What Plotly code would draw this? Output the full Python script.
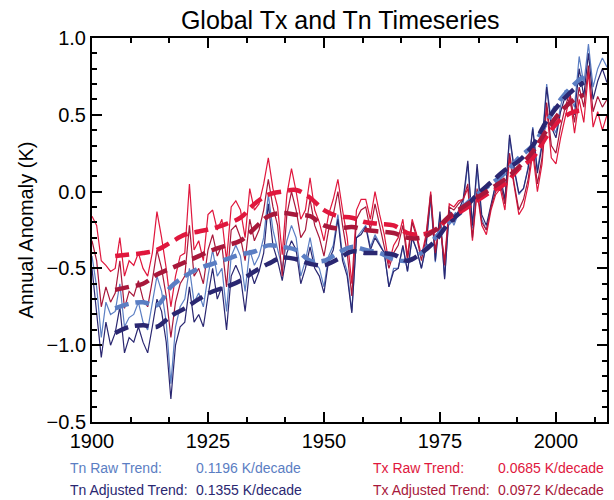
import plotly.graph_objects as go

years = list(range(1900, 2012))

tn_adj = [-0.50, -0.80, -1.08, -0.85, -1.00, -0.92, -0.75, -1.05, -0.95, -0.98,
          -0.88, -0.98, -1.05, -0.88, -0.70, -0.78, -0.98, -1.35, -1.00, -0.88,
          -0.85, -0.62, -0.85, -0.80, -0.88, -0.68, -0.50, -0.70, -0.62, -0.90,
          -0.55, -0.48, -0.55, -0.78, -0.50, -0.60, -0.52, -0.40, -0.08, -0.35,
          -0.45, -0.58, -0.40, -0.32, -0.38, -0.60, -0.50, -0.36, -0.50, -0.55,
          -0.66, -0.45, -0.38, -0.18, -0.45, -0.55, -0.79, -0.30, -0.28, -0.23,
          -0.38, -0.30, -0.35, -0.40, -0.62, -0.52, -0.50, -0.35, -0.52, -0.30,
          -0.38, -0.50, -0.35, -0.02, -0.45, -0.13, -0.57, -0.12, -0.20, -0.12,
          -0.05, 0.20, -0.22, 0.18, -0.15, -0.22, -0.08, 0.05, 0.10, -0.05,
          0.37, 0.15, -0.01, 0.02, 0.15, 0.41, 0.12, 0.30, 0.68, 0.42,
          0.35, 0.52, 0.62, 0.58, 0.50, 0.80, 0.62, 0.90, 0.60, 0.72,
          0.80, 0.71]

tn_raw = [-0.42, -0.62, -0.95, -0.72, -0.80, -0.78, -0.60, -0.88, -0.82, -0.80,
          -0.72, -0.85, -0.90, -0.72, -0.55, -0.65, -0.85, -1.25, -0.88, -0.75,
          -0.70, -0.50, -0.72, -0.66, -0.75, -0.55, -0.38, -0.55, -0.50, -0.78,
          -0.42, -0.35, -0.42, -0.65, -0.38, -0.48, -0.42, -0.30, -0.02, -0.25,
          -0.38, -0.50, -0.32, -0.22, -0.30, -0.55, -0.45, -0.30, -0.46, -0.50,
          -0.62, -0.42, -0.35, -0.15, -0.42, -0.52, -0.78, -0.30, -0.26, -0.22,
          -0.36, -0.28, -0.34, -0.40, -0.62, -0.50, -0.50, -0.36, -0.52, -0.30,
          -0.38, -0.50, -0.36, -0.05, -0.46, -0.15, -0.56, -0.14, -0.22, -0.14,
          -0.08, 0.18, -0.24, 0.15, -0.18, -0.25, -0.10, 0.04, 0.08, -0.08,
          0.35, 0.14, -0.02, 0.02, 0.16, 0.42, 0.14, 0.32, 0.70, 0.45,
          0.38, 0.56, 0.66, 0.62, 0.55, 0.88, 0.70, 0.96, 0.68, 0.80,
          0.87, 0.81]

tx_adj = [-0.32, -0.45, -0.75, -0.62, -0.72, -0.66, -0.45, -0.76, -0.65, -0.68,
          -0.58, -0.70, -0.75, -0.58, -0.38, -0.50, -0.68, -0.95, -0.72, -0.60,
          -0.55, -0.22, -0.55, -0.50, -0.60, -0.38, -0.28, -0.42, -0.35, -0.62,
          -0.25, -0.22, -0.30, -0.45, -0.18, -0.32, -0.25, -0.12, 0.08, -0.10,
          -0.22, -0.55, -0.15, 0.00, -0.12, -0.30, -0.25, -0.05, -0.22, -0.30,
          -0.42, -0.25, -0.15, 0.00, -0.22, -0.40, -0.68, -0.18, -0.12, -0.10,
          -0.25, -0.08, -0.22, -0.35, -0.50, -0.40, -0.35, -0.22, -0.45, -0.20,
          -0.30, -0.45, -0.30, -0.02, -0.40, -0.20, -0.48, -0.10, -0.12, -0.08,
          -0.05, 0.05, -0.30, 0.02, -0.20, -0.25, -0.10, 0.00, 0.05, -0.08,
          0.25, 0.05, -0.12, -0.05, 0.08, 0.30, 0.05, 0.22, 0.58, 0.30,
          0.25, 0.42, 0.55, 0.65, 0.45, 0.68, 0.55, 0.82, 0.52, 0.62,
          0.55, 0.60]

tx_raw = [-0.16, -0.22, -0.45, -0.48, -0.52, -0.50, -0.30, -0.55, -0.45, -0.48,
          -0.40, -0.50, -0.55, -0.40, -0.13, -0.30, -0.50, -0.75, -0.55, -0.42,
          -0.40, 0.05, -0.38, -0.32, -0.45, -0.15, -0.12, -0.25, -0.18, -0.45,
          -0.10, -0.06, -0.12, -0.30, 0.02, -0.12, -0.08, 0.05, 0.22, 0.02,
          -0.10, -0.41, -0.02, 0.15, 0.00, -0.18, -0.12, 0.09, -0.12, -0.20,
          -0.32, -0.15, -0.05, 0.08, -0.12, -0.30, -0.60, -0.12, -0.05, -0.05,
          -0.18, 0.00, -0.15, -0.28, -0.47, -0.35, -0.30, -0.18, -0.42, -0.18,
          -0.28, -0.42, -0.28, 0.00, -0.38, -0.22, -0.45, -0.08, -0.10, -0.06,
          -0.05, 0.02, -0.32, 0.00, -0.22, -0.28, -0.12, -0.02, 0.02, -0.12,
          0.22, 0.02, -0.15, -0.10, 0.04, 0.25, 0.00, 0.18, 0.55, 0.22,
          0.18, 0.35, 0.48, 0.62, 0.38, 0.60, 0.45, 0.78, 0.42, 0.52,
          0.40, 0.50]

trend_years = [1905, 1908, 1911, 1914, 1917, 1920, 1923, 1926, 1929, 1932,
               1935, 1938, 1941, 1944, 1947, 1950, 1953, 1956, 1959, 1962,
               1965, 1968, 1971, 1974, 1977, 1980, 1983, 1986, 1989, 1992,
               1995, 1998, 2001, 2004, 2006]

tx_raw_trend = [-0.42, -0.41, -0.40, -0.38, -0.33, -0.28, -0.26, -0.24, -0.21, -0.17,
                -0.08, -0.02, 0.00, 0.01, -0.04, -0.12, -0.16, -0.17, -0.20, -0.21,
                -0.22, -0.27, -0.28, -0.25, -0.17, -0.12, -0.06, 0.00, 0.05, 0.15,
                0.22, 0.36, 0.47, 0.52, 0.53]
tx_adj_trend = [-0.64, -0.62, -0.60, -0.54, -0.50, -0.46, -0.42, -0.38, -0.35, -0.32,
                -0.24, -0.16, -0.14, -0.15, -0.16, -0.22, -0.24, -0.23, -0.25, -0.26,
                -0.27, -0.30, -0.30, -0.25, -0.16, -0.10, -0.04, 0.02, 0.08, 0.16,
                0.26, 0.40, 0.52, 0.60, 0.63]
tn_raw_trend = [-0.76, -0.73, -0.72, -0.74, -0.62, -0.55, -0.50, -0.47, -0.44, -0.41,
                -0.39, -0.35, -0.36, -0.38, -0.45, -0.45, -0.40, -0.36, -0.38, -0.40,
                -0.44, -0.45, -0.40, -0.30, -0.20, -0.10, -0.02, 0.05, 0.12, 0.22,
                0.30, 0.45, 0.60, 0.70, 0.75]
tn_adj_trend = [-0.92, -0.88, -0.87, -0.88, -0.81, -0.76, -0.70, -0.65, -0.62, -0.58,
                -0.52, -0.47, -0.43, -0.44, -0.47, -0.48, -0.44, -0.39, -0.40, -0.40,
                -0.41, -0.45, -0.40, -0.32, -0.20, -0.12, -0.02, 0.06, 0.14, 0.20,
                0.30, 0.46, 0.58, 0.67, 0.71]

y_tickvals = [-1.5, -1.0, -0.5, 0.0, 0.5, 1.0]
y_ticktext = ["\u22120.5", "\u22121.0", "\u22120.5", "0.0", "0.5", "1.0"]
x_tickvals = [1900, 1925, 1950, 1975, 2000]

trend_labels = [
    ("Tn Raw Trend:", "0.1196 K/decade"),
    ("Tn Adjusted Trend:", "0.1355 K/decade"),
    ("Tx Raw Trend:", "0.0685 K/decade"),
    ("Tx Adjusted Trend:", "0.0972 K/decade"),
]

TX_RAW = "#e0173d"
TX_ADJ = "#a8183b"
TN_RAW = "#5b7ec3"
TN_ADJ = "#2a2771"
FONT = "Liberation Sans, Arial, sans-serif"

fig = go.Figure()
for vals, col in [(tn_raw, TN_RAW), (tn_adj, TN_ADJ), (tx_raw, TX_RAW), (tx_adj, TX_ADJ)]:
    fig.add_trace(go.Scatter(x=years, y=vals, mode="lines",
                             line=dict(color=col, width=1.2), showlegend=False))
for vals, col in [(tn_raw_trend, TN_RAW), (tn_adj_trend, TN_ADJ),
                  (tx_raw_trend, TX_RAW), (tx_adj_trend, TX_ADJ)]:
    fig.add_trace(go.Scatter(x=trend_years, y=vals, mode="lines",
                             line=dict(color=col, width=4.5, dash="14px,7px", shape="spline"),
                             showlegend=False))

axis_common = dict(showline=True, linecolor="black", linewidth=2, mirror="ticks",
                   ticks="inside", ticklen=10, tickwidth=2, tickcolor="black",
                   showgrid=False, zeroline=False,
                   tickfont=dict(family=FONT, size=20, color="black"))

fig.update_xaxes(range=[1900, 2011], tickvals=x_tickvals,
                 minor=dict(dtick=25 / 3, tick0=1900, ticks="inside", ticklen=5,
                            tickwidth=1.5, tickcolor="black", showgrid=False),
                 **axis_common)
fig.update_yaxes(range=[-1.5, 1.0], tickvals=y_tickvals, ticktext=y_ticktext,
                 minor=dict(dtick=0.1, tick0=0, ticks="inside", ticklen=5,
                            tickwidth=1.5, tickcolor="black", showgrid=False),
                 title=dict(text="Annual Anomaly (K)", font=dict(family=FONT, size=20, color="black"),
                            standoff=8),
                 **axis_common)

annots = []
label_pos = [(68, 194, 468, TN_RAW), (68, 194, 490, TN_ADJ),
             (372, 498, 468, TX_RAW), (372, 498, 490, TX_ADJ)]
for (lab, val), (x1, x2, py, col) in zip(trend_labels, label_pos):
    for txt, px in [(lab, x1), (val, x2)]:
        annots.append(dict(text=txt, x=(px - 92) / 517, y=(422 - py) / 384,
                           xref="paper", yref="paper", xanchor="left", yanchor="middle",
                           showarrow=False, font=dict(family=FONT, size=14, color=col)))

fig.update_layout(
    width=614, height=500,
    margin=dict(l=92, r=5, t=38, b=78),
    paper_bgcolor="white", plot_bgcolor="white",
    title=dict(text="Global Tx and Tn Timeseries", x=0.482, xref="paper",
               y=1 - 20 / 500, yanchor="middle",
               font=dict(family=FONT, size=25, color="black")),
    annotations=annots,
)
fig.write_html("out.html")
